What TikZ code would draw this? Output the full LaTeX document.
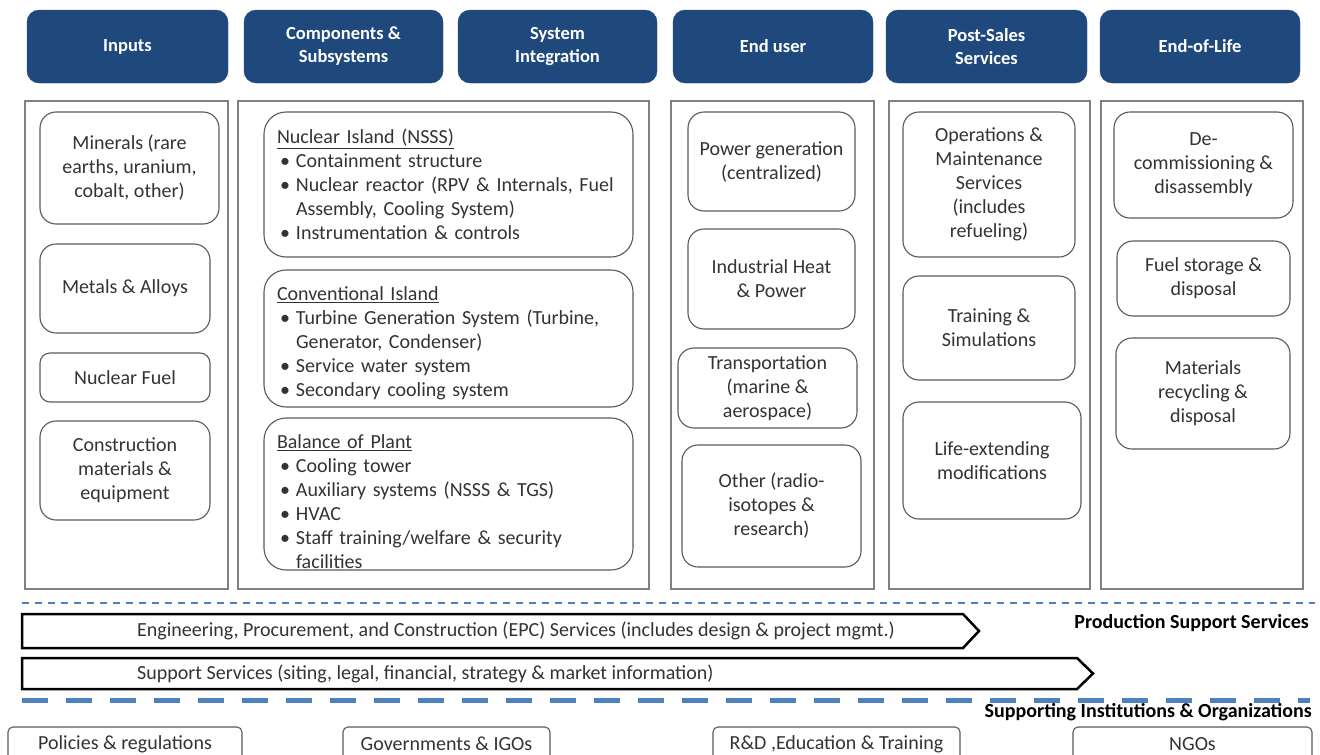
\documentclass[tikz,border=0pt]{standalone}
\usepackage{fontspec}
\setmainfont{Carlito}
\usetikzlibrary{positioning}
\definecolor{hdr}{HTML}{1F497D}
\definecolor{dsh}{HTML}{4F81BD}
\definecolor{frm}{HTML}{808080}
\definecolor{bxl}{HTML}{595959}
\definecolor{txt}{HTML}{333333}
\newcommand{\itm}{\makebox[19pt][l]{\hspace{3pt}\textbullet}}
\newcommand{\cnt}{\hspace*{19pt}}
\tikzset{
  head/.style={fill=hdr,draw=hdr,rounded corners=12pt,text=white,align=center,inner sep=0pt,
    font=\fontsize{18.5}{23}\selectfont\bfseries},
  frame/.style={draw=frm,line width=1.3pt},
  box/.style={draw=bxl,line width=1.1pt,rounded corners=16pt,align=center,text=txt,inner sep=0pt,
    font=\fontsize{20}{24}\selectfont},
  lbox/.style={box,align=left,text width=343pt,inner xsep=13pt,rounded corners=22pt,minimum width=369pt},
  band/.style={draw=black,line width=2.5pt,line join=miter},
  btxt/.style={anchor=west,text=txt,inner sep=0pt,font=\fontsize{20}{24}\selectfont},
  side/.style={anchor=east,inner sep=0pt,font=\fontsize{20}{24}\selectfont\bfseries},
  inst/.style={draw=bxl,line width=1.1pt,rounded corners=5pt,text=txt,minimum height=34pt,inner sep=0pt,
    font=\fontsize{20}{24}\selectfont},
}
\begin{document}
\begin{tikzpicture}[x=1pt,y=-1pt]
  \useasboundingbox (0,0) rectangle (1320,755);

  \node[head,minimum width=201pt,minimum height=73pt] (h1) at (127.5,46.5) {Inputs};
  \node[head,minimum width=199pt,minimum height=73pt] (h2) at (343.5,46.5) {Components \&\\Subsystems};
  \node[head,minimum width=199pt,minimum height=73pt] (h3) at (557.5,46.5) {System\\Integration};
  \node[head,minimum width=200pt,minimum height=73pt] (h4) at (773,46.5) {End user};
  \node[head,minimum width=201pt,minimum height=73pt] (h5) at (986.5,46.5) {Post-Sales\\Services};
  \node[head,minimum width=200pt,minimum height=73pt] (h6) at (1200,46.5) {End-of-Life};

  \draw[frame] (25,101) rectangle (228,589);
  \draw[frame] (238,101) rectangle (649,589);
  \draw[frame] (671,101) rectangle (874,589);
  \draw[frame] (889,101) rectangle (1090,589);
  \draw[frame] (1101,101) rectangle (1303,589);

  \node[box,minimum width=179pt,minimum height=112pt] (i1) at (129.5,168) {Minerals (rare\\earths, uranium,\\cobalt, other)};
  \node[box,minimum width=170pt,minimum height=89pt] (i2) at (125,288.5) {Metals \& Alloys};
  \node[box,minimum width=170pt,minimum height=49pt,rounded corners=10pt] (i3) at (125,377.5) {Nuclear Fuel};
  \node[box,minimum width=170pt,minimum height=99pt] (i4) at (125,470.5) {Construction\\materials \&\\equipment};

  \node[lbox,minimum height=145pt] (s1) at (448.5,184.5)
    {\underline{Nuclear Island (NSSS)}\\
     \itm Containment structure\\
     \itm Nuclear reactor (RPV \& Internals, Fuel\\
     \cnt Assembly, Cooling System)\\
     \itm Instrumentation \& controls};
  \node[lbox,minimum height=137pt] (s2) at (448.5,338.5)
    {\rule{0pt}{0pt}\\[0pt]
     \underline{Conventional Island}\\
     \itm Turbine Generation System (Turbine,\\
     \cnt Generator, Condenser)\\
     \itm Service water system\\
     \itm Secondary cooling system};
  \node[lbox,minimum height=152pt] (s3) at (448.5,494)
    {\rule{0pt}{0pt}\\[6pt]
     \underline{Balance of Plant}\\
     \itm Cooling tower\\
     \itm Auxiliary systems (NSSS \& TGS)\\
     \itm HVAC\\
     \itm Staff training/welfare \& security\\
     \cnt facilities};

  \node[box,minimum width=167pt,minimum height=99pt] (e1) at (771.5,161.5) {Power generation\\(centralized)};
  \node[box,minimum width=167pt,minimum height=100pt] (e2) at (771.5,279) {Industrial Heat\\\& Power};
  \node[box,minimum width=179pt,minimum height=80pt] (e3) at (767.5,388) {Transportation\\(marine \&\\aerospace)};
  \node[box,minimum width=179pt,minimum height=122pt] (e4) at (771.5,506) {Other (radio-\\isotopes \&\\research)};

  \node[box,minimum width=172pt,minimum height=145pt] (p1) at (989,184.5) {Operations \&\\Maintenance\\Services\\(includes\\refueling)};
  \node[box,minimum width=172pt,minimum height=104pt] (p2) at (989,328) {Training \&\\Simulations};
  \node[box,minimum width=178pt,minimum height=117pt] (p3) at (992,460.5) {Life-extending\\modifications};

  \node[box,minimum width=179pt,minimum height=106pt] (l1) at (1203.5,165) {De-\\commissioning \&\\disassembly};
  \node[box,minimum width=173pt,minimum height=75pt] (l2) at (1203.5,278.5) {Fuel storage \&\\disposal};
  \node[box,minimum width=174pt,minimum height=111pt] (l3) at (1203,393.5) {Materials\\recycling \&\\disposal};

  \draw[dsh,line width=2pt,dash pattern=on 7pt off 6pt] (22,603) -- (1315,603);
  \draw[band] (22,614) -- (963,614) -- (979,631) -- (963,648) -- (22,648) -- cycle;
  \node[btxt] (epc) at (137,631) {Engineering, Procurement, and Construction (EPC) Services (includes design \& project mgmt.)};
  \draw[band] (22,658) -- (1077,658) -- (1093,673.5) -- (1077,689) -- (22,689) -- cycle;
  \node[btxt] (sup) at (137,673.5) {Support Services (siting, legal, financial, strategy \& market information)};
  \node[side] (pss) at (1309,623) {Production Support Services};
  \draw[dsh,line width=5pt,dash pattern=on 26pt off 18pt] (22,700) -- (1310,700);
  \node[side] (sio) at (1312,712) {Supporting Institutions \& Organizations};

  \node[inst,minimum width=234pt] (b1) at (125,744) {Policies \& regulations};
  \node[inst,minimum width=207pt] (b2) at (446.5,744) {Governments \& IGOs};
  \node[inst,minimum width=247pt] (b3) at (836.5,744) {R\&D ,Education \& Training};
  \node[inst,minimum width=239pt] (b4) at (1192.5,744) {NGOs};
\end{tikzpicture}
\end{document}
